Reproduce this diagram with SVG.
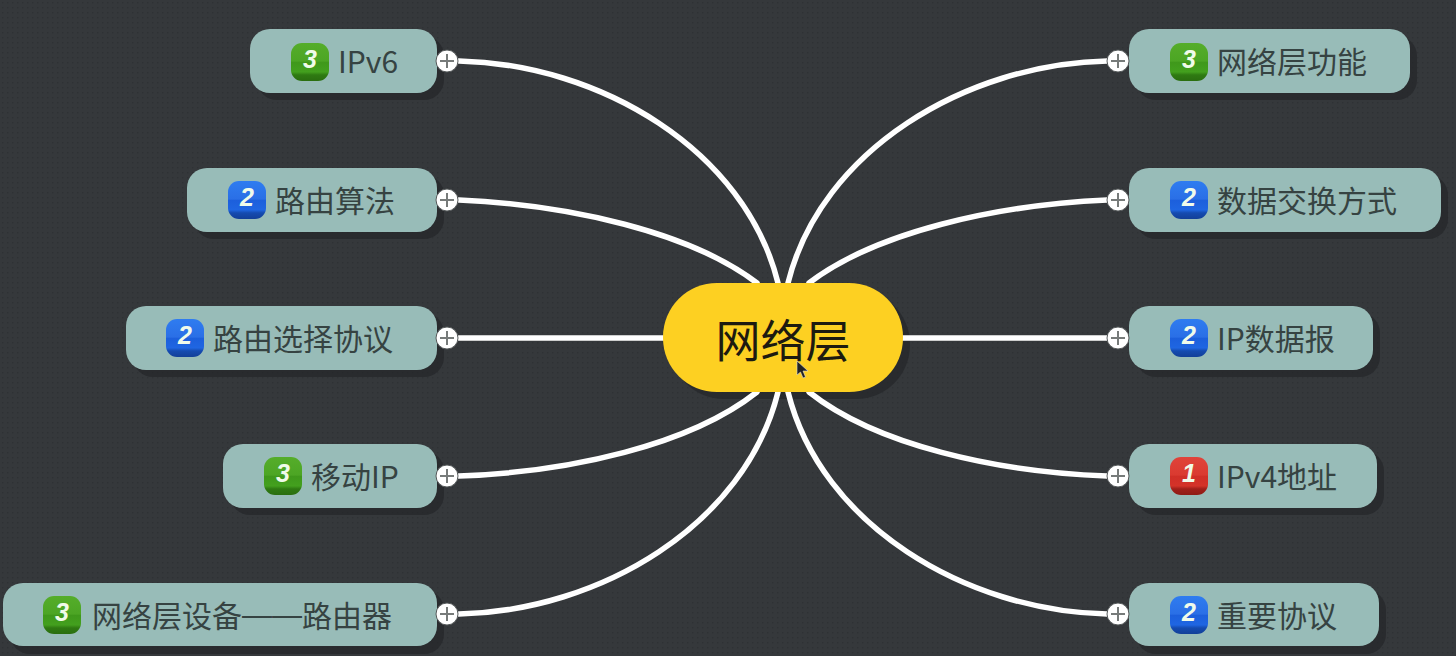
<svg xmlns="http://www.w3.org/2000/svg" width="1456" height="656" viewBox="0 0 1456 656">
<defs>
<pattern id="dots" width="5" height="5" patternUnits="userSpaceOnUse"><rect width="5" height="5" fill="#35383b"/><rect x="2" y="2" width="1.500" height="1.500" fill="#2e3134"/></pattern>
<linearGradient id="g3" x1="0" y1="0" x2="0" y2="1"><stop offset="0" stop-color="#55ad2a"/><stop offset="0.48" stop-color="#4ca524"/><stop offset="0.5" stop-color="#3f981b"/><stop offset="0.76" stop-color="#43a01e"/><stop offset="0.84" stop-color="#2f7a12"/><stop offset="1" stop-color="#2a6e0f"/></linearGradient>
<linearGradient id="g2" x1="0" y1="0" x2="0" y2="1"><stop offset="0" stop-color="#2f7cf0"/><stop offset="0.48" stop-color="#2a6fe6"/><stop offset="0.5" stop-color="#1c5fdc"/><stop offset="0.76" stop-color="#1f66e2"/><stop offset="0.84" stop-color="#154bb0"/><stop offset="1" stop-color="#123f98"/></linearGradient>
<linearGradient id="g1" x1="0" y1="0" x2="0" y2="1"><stop offset="0" stop-color="#e0433a"/><stop offset="0.48" stop-color="#da3a30"/><stop offset="0.5" stop-color="#d02f27"/><stop offset="0.76" stop-color="#d43329"/><stop offset="0.84" stop-color="#a0201a"/><stop offset="1" stop-color="#8f1b15"/></linearGradient>
</defs>
<style>
.box{fill:#98bcb8}
.sh{fill:#212326;opacity:.6}
.t{font-family:"Noto Sans CJK SC",sans-serif;font-size:30px;fill:#364342;dominant-baseline:central}
.n{font-family:"Liberation Sans",sans-serif;font-size:25px;font-weight:bold;font-style:italic;fill:#f0fbea;text-anchor:middle;dominant-baseline:central}
.c{fill:none;stroke:#fff;stroke-width:5.500;stroke-linecap:round}
.pc{fill:#fff;stroke:#55595a;stroke-width:1}
.pl{stroke:#777b7a;stroke-width:2}
</style>
<rect width="1456" height="656" fill="url(#dots)"/>
<rect id="center-shadow" x="670" y="290" width="240" height="109" rx="54" class="sh"/>
<g id="connectors">
<path class="c" d="M459 61C600 64 745 150 778 283"/>
<path class="c" d="M459 200C570 205 690 232 757 283"/>
<path class="c" d="M459 338H664"/>
<path class="c" d="M459 476C570 472 690 445 757 392"/>
<path class="c" d="M459 614C600 611 745 525 778 392"/>
<path class="c" d="M1107 61C966 64 821 150 788 283"/>
<path class="c" d="M1107 200C996 205 876 232 809 283"/>
<path class="c" d="M1107 338H902"/>
<path class="c" d="M1107 476C996 472 876 445 809 392"/>
<path class="c" d="M1107 614C966 611 821 525 788 392"/>
</g>
<g id="center"><rect x="663" y="283" width="240" height="109" rx="54" fill="#fdd022"/><text x="783" y="338" text-anchor="middle" dominant-baseline="central" font-family="Noto Sans CJK SC,sans-serif" font-size="45" fill="#1d1a10">网络层</text><path d="M797 361l0 14 3.500-3 2.500 6 2.500-1-2.500-6 5 0z" fill="#222" stroke="#ddd" stroke-width=".6"/></g>
<g id="n1"><rect x="257" y="36" width="187" height="64" rx="20" class="sh"/><rect x="250" y="29" width="187" height="64" rx="20" class="box"/><rect x="291" y="43" width="38" height="38" rx="11" fill="url(#g3)"/><text x="310" y="59" class="n">3</text><text x="338" y="60" class="t">IPv6</text><circle cx="447" cy="61" r="11" class="pc"/><path class="pl" d="M440 61h14M447 54v14"/></g>
<g id="n2"><rect x="194" y="175" width="250" height="64" rx="20" class="sh"/><rect x="187" y="168" width="250" height="64" rx="20" class="box"/><rect x="228" y="181" width="38" height="38" rx="11" fill="url(#g2)"/><text x="247" y="197" class="n">2</text><text x="275" y="199" class="t">路由算法</text><circle cx="447" cy="200" r="11" class="pc"/><path class="pl" d="M440 200h14M447 193v14"/></g>
<g id="n3"><rect x="133" y="313" width="311" height="64" rx="20" class="sh"/><rect x="126" y="306" width="311" height="64" rx="20" class="box"/><rect x="166" y="319" width="38" height="38" rx="11" fill="url(#g2)"/><text x="185" y="335" class="n">2</text><text x="213" y="337" class="t">路由选择协议</text><circle cx="447" cy="338" r="11" class="pc"/><path class="pl" d="M440 338h14M447 331v14"/></g>
<g id="n4"><rect x="230" y="451" width="214" height="64" rx="20" class="sh"/><rect x="223" y="444" width="214" height="64" rx="20" class="box"/><rect x="264" y="457" width="38" height="38" rx="11" fill="url(#g3)"/><text x="283" y="473" class="n">3</text><text x="311" y="475" class="t">移动IP</text><circle cx="447" cy="476" r="11" class="pc"/><path class="pl" d="M440 476h14M447 469v14"/></g>
<g id="n5"><rect x="10" y="590" width="434" height="64" rx="20" class="sh"/><rect x="3" y="583" width="434" height="63" rx="20" class="box"/><rect x="43" y="596" width="38" height="38" rx="11" fill="url(#g3)"/><text x="62" y="612" class="n">3</text><text x="92" y="614" class="t">网络层设备<tspan font-family="Liberation Sans">——</tspan>路由器</text><circle cx="447" cy="614" r="11" class="pc"/><path class="pl" d="M440 614h14M447 607v14"/></g>
<g id="n6"><rect x="1136" y="36" width="281" height="64" rx="20" class="sh"/><rect x="1129" y="29" width="281" height="64" rx="20" class="box"/><rect x="1170" y="43" width="38" height="38" rx="11" fill="url(#g3)"/><text x="1189" y="59" class="n">3</text><text x="1217" y="60" class="t">网络层功能</text><circle cx="1118" cy="61" r="11" class="pc"/><path class="pl" d="M1111 61h14M1118 54v14"/></g>
<g id="n7"><rect x="1136" y="175" width="312" height="64" rx="20" class="sh"/><rect x="1129" y="168" width="312" height="64" rx="20" class="box"/><rect x="1170" y="181" width="38" height="38" rx="11" fill="url(#g2)"/><text x="1189" y="197" class="n">2</text><text x="1217" y="199" class="t">数据交换方式</text><circle cx="1118" cy="200" r="11" class="pc"/><path class="pl" d="M1111 200h14M1118 193v14"/></g>
<g id="n8"><rect x="1136" y="313" width="244" height="64" rx="20" class="sh"/><rect x="1129" y="306" width="244" height="64" rx="20" class="box"/><rect x="1170" y="319" width="38" height="38" rx="11" fill="url(#g2)"/><text x="1189" y="335" class="n">2</text><text x="1217" y="337" class="t">IP数据报</text><circle cx="1118" cy="338" r="11" class="pc"/><path class="pl" d="M1111 338h14M1118 331v14"/></g>
<g id="n9"><rect x="1136" y="451" width="248" height="64" rx="20" class="sh"/><rect x="1129" y="444" width="248" height="64" rx="20" class="box"/><rect x="1170" y="457" width="38" height="38" rx="11" fill="url(#g1)"/><text x="1189" y="473" class="n">1</text><text x="1217" y="475" class="t">IPv4地址</text><circle cx="1118" cy="476" r="11" class="pc"/><path class="pl" d="M1111 476h14M1118 469v14"/></g>
<g id="n10"><rect x="1136" y="590" width="250" height="64" rx="20" class="sh"/><rect x="1129" y="583" width="250" height="63" rx="20" class="box"/><rect x="1170" y="596" width="38" height="38" rx="11" fill="url(#g2)"/><text x="1189" y="612" class="n">2</text><text x="1217" y="614" class="t">重要协议</text><circle cx="1118" cy="614" r="11" class="pc"/><path class="pl" d="M1111 614h14M1118 607v14"/></g>
</svg>
